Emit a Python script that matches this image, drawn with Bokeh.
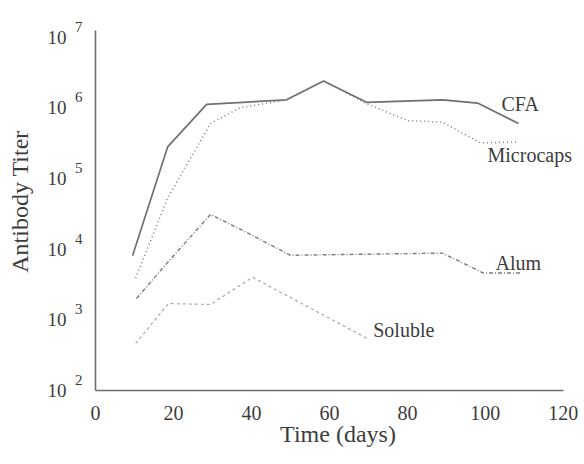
from bokeh.plotting import figure
from bokeh.models import FixedTicker, Label, Range1d, LogAxis
from bokeh.embed import file_html
from bokeh.resources import INLINE

# ---- data ----
cfa_days = [9.5, 18.5, 28.5, 49, 58.5, 69.5, 89, 98, 108.5]
cfa_titer = [8100, 2.8e5, 1.12e6, 1.3e6, 2.4e6, 1.2e6, 1.3e6, 1.17e6, 6.0e5]

micro_days = [10.3, 18.5, 29.5, 37, 49, 58.5, 69.5, 80, 89, 98.7, 108.5]
micro_titer = [3900, 5.3e4, 6.0e5, 1.0e6, 1.3e6, 2.4e6, 1.15e6, 6.6e5, 6.3e5, 3.2e5, 3.3e5]

alum_days = [10.5, 18.5, 29.5, 39, 50, 89, 99.5, 109]
alum_titer = [2000, 6500, 3.1e4, 1.7e4, 8200, 8800, 4600, 4600]

sol_days = [10.3, 18.7, 29.5, 40.3, 69.7]
sol_titer = [463, 1700, 1650, 4000, 545]

x_ticks = [0, 20, 40, 60, 80, 100, 120]
y_ticks = [1e2, 1e3, 1e4, 1e5, 1e6, 1e7]
y_base = ["10"] * 6
y_exp = ["2", "3", "4", "5", "6", "7"]

series_names = ["CFA", "Microcaps", "Alum", "Soluble"]

FONT = "Liberation Serif"
TXT = "#3c3c3c"
AX = "#6e6e6e"

p = figure(width=584, height=464, output_backend="svg", toolbar_location=None,
           y_axis_type="log",
           x_range=Range1d(0, 124.4), y_range=Range1d(1e2, 10 ** 7.35),
           min_border_left=95, min_border_right=4, min_border_top=12,
           min_border_bottom=74)
p.outline_line_color = None
p.grid.visible = False
p.background_fill_color = "white"
p.border_fill_color = "white"


def style(ax):
    ax.major_tick_line_color = None
    ax.minor_tick_line_color = None
    ax.major_tick_out = 0
    ax.minor_tick_out = 0
    ax.major_tick_in = 0
    ax.minor_tick_in = 0
    ax.axis_line_color = AX
    ax.axis_line_width = 1.6
    ax.major_label_text_font = FONT
    ax.major_label_text_color = TXT
    ax.axis_label_text_font = FONT
    ax.axis_label_text_font_style = "normal"
    ax.axis_label_text_color = TXT


# x axis
xa = p.xaxis[0]
style(xa)
xa.ticker = FixedTicker(ticks=x_ticks)
xa.bounds = (x_ticks[0], x_ticks[-1])
xa.major_label_text_font_size = "20px"
xa.major_label_standoff = 15
xa.axis_label = "Time (days)"
xa.axis_label_text_font_size = "24px"
xa.axis_label_standoff = -2

# y axis: the line only
ya = p.yaxis[0]
style(ya)
ya.ticker = FixedTicker(ticks=[])
ya.bounds = (y_ticks[0], 10 ** 7.1)

# y axis: exponents, set a little above each decade
exp_shift = 10 ** 0.15
ye = LogAxis(ticker=FixedTicker(ticks=[t * exp_shift for t in y_ticks]))
style(ye)
ye.axis_line_color = None
ye.major_label_overrides = {t * exp_shift: e for t, e in zip(y_ticks, y_exp)}
ye.major_label_text_font_size = "15px"
ye.major_label_standoff = 13
ye.major_label_text_align = "right"
p.add_layout(ye, "left")

# y axis: the "10" of each label and the axis title
yb = LogAxis(ticker=FixedTicker(ticks=y_ticks))
style(yb)
yb.axis_line_color = None
yb.major_label_overrides = {int(t): b for t, b in zip(y_ticks, y_base)}
yb.major_label_text_font_size = "19px"
yb.major_label_standoff = 5
yb.axis_label = "Antibody Titer"
yb.axis_label_text_font_size = "24px"
yb.axis_label_standoff = 12
p.add_layout(yb, "left")

p.line(cfa_days, cfa_titer, line_color="#707070", line_width=1.7)
p.line(micro_days, micro_titer, line_color="#7a7a7a", line_width=1.5, line_dash="1 3")
p.line(alum_days, alum_titer, line_color="#7a7a7a", line_width=1.4, line_dash="4 2 1 2")
p.line(sol_days, sol_titer, line_color="#b4a2a2", line_width=1.2, line_dash="3 3")

ends = [(cfa_days[-1], cfa_titer[-1], -17, 20),
        (micro_days[-1], micro_titer[-1], -31, -13),
        (alum_days[-1], alum_titer[-1], -25, 10),
        (sol_days[-1], sol_titer[-1], 6, 8)]
for name, (xx, yy, dx, dy) in zip(series_names, ends):
    p.add_layout(Label(x=xx, y=yy, text=name, x_offset=dx, y_offset=dy,
                       text_font=FONT, text_font_size="20px", text_color=TXT,
                       text_align="left", text_baseline="middle"))

open("out.html", "w").write(file_html(p, INLINE))
